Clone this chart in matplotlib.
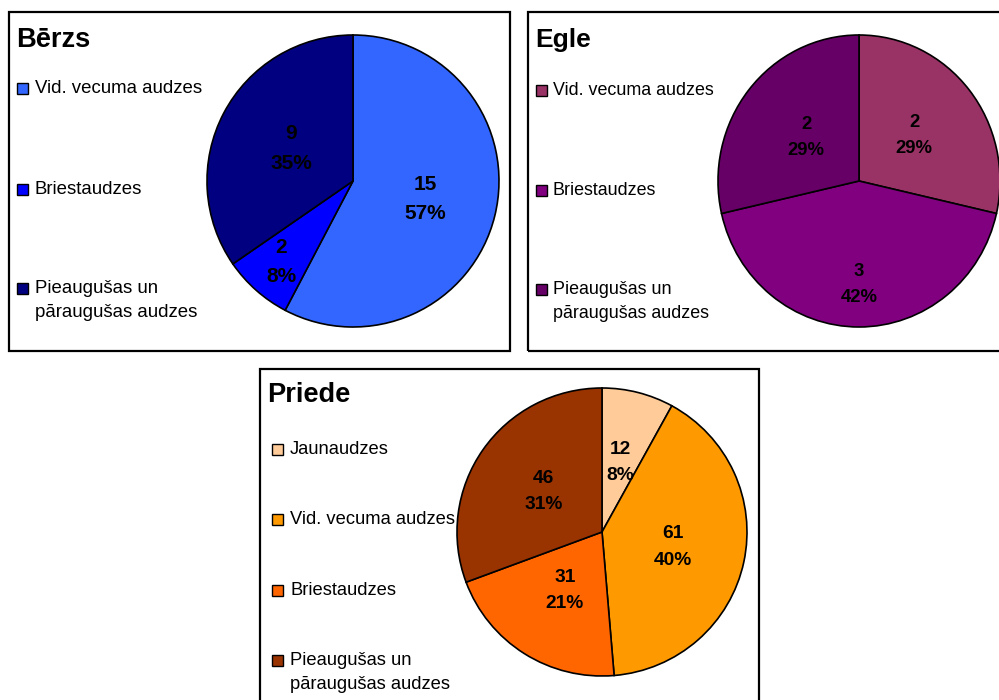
import matplotlib
matplotlib.use("Agg")
import matplotlib.pyplot as plt
from matplotlib.patches import Rectangle
import numpy as np

plt.rcParams['font.family'] = ['Liberation Sans', 'DejaVu Sans']

# ---------------- data ----------------
berzs_categories = ["Vid. vecuma audzes", "Briestaudzes", "Pieaugušas un\npāraugušas audzes"]
berzs_values = [15, 2, 9]
berzs_pcts = ["57%", "8%", "35%"]

egle_categories = ["Vid. vecuma audzes", "Briestaudzes", "Pieaugušas un\npāraugušas audzes"]
egle_values = [2, 3, 2]
egle_pcts = ["29%", "42%", "29%"]

priede_categories = ["Jaunaudzes", "Vid. vecuma audzes", "Briestaudzes", "Pieaugušas un\npāraugušas audzes"]
priede_values = [12, 61, 31, 46]
priede_pcts = ["8%", "40%", "21%", "31%"]

berzs_colors = ["#3366FF", "#0000FF", "#000080"]
egle_colors = ["#993366", "#800080", "#660066"]
priede_colors = ["#FFCC99", "#FF9900", "#FF6600", "#993300"]

W, H = 999, 700
fig = plt.figure(figsize=(W / 100, H / 100), dpi=100)
fig.patch.set_facecolor("white")


def fx(x):
    return x / W


def fy(y):
    return 1 - y / H


def panel(box, title, title_xy, center, rx, ry, categories, values, pcts, colors,
          label_r, leg_sq_x, leg_tx, leg_baselines, title_fs, leg_fs, lab_fs):
    x0, y0, x1, y1 = box
    fig.patches.append(Rectangle((fx(x0), fy(y1)), (x1 - x0) / W, (y1 - y0) / H,
                                 transform=fig.transFigure, fill=False,
                                 edgecolor="black", linewidth=1.6, zorder=0))
    fig.text(fx(title_xy[0]), fy(title_xy[1]), title, fontsize=title_fs,
             fontweight="bold", ha="left", va="baseline")
    cx, cy = center
    ax = fig.add_axes([fx(cx - rx), fy(cy + ry), 2 * rx / W, 2 * ry / H])
    wedges, _ = ax.pie(values, colors=colors, startangle=90, counterclock=False,
                       wedgeprops=dict(edgecolor="black", linewidth=1.2))
    ax.set_aspect("auto")
    ax.set_xlim(-1, 1)
    ax.set_ylim(-1, 1)
    ax.axis("off")
    for w, v, p, r in zip(wedges, values, pcts, label_r):
        w.set_clip_on(False)
        th = np.deg2rad((w.theta1 + w.theta2) / 2)
        ax.text(r * np.cos(th), r * np.sin(th), f"{v}\n{p}", ha="center",
                va="center", fontsize=lab_fs, fontweight="bold", linespacing=1.7)
    # legend
    for cat, col, bl in zip(categories, colors, leg_baselines):
        fig.patches.append(Rectangle((fx(leg_sq_x), fy(bl + 1)), 11 / W, 11 / H,
                                     transform=fig.transFigure, facecolor=col,
                                     edgecolor="black", linewidth=1.0))
        for i, line in enumerate(cat.split("\n")):
            fig.text(fx(leg_tx), fy(bl + i * 24), line, fontsize=leg_fs,
                     ha="left", va="baseline")


panel((9, 12, 510, 351), "Bērzs", (16, 47), (353, 181), 146, 146,
      berzs_categories, berzs_values, berzs_pcts, berzs_colors,
      [0.51, 0.74, 0.48], 17, 35, [93, 194, 293], 19.6, 13.4, 15)

panel((528, 12, 1010, 351), "Egle", (535, 47), (859, 181), 141, 146,
      egle_categories, egle_values, egle_pcts, egle_colors,
      [0.5, 0.71, 0.48], 536, 553, [95, 195, 294], 19, 12.9, 13.3)

panel((260, 369, 759, 710), "Priede", (267, 402), (602, 532), 145, 144,
      priede_categories, priede_values, priede_pcts, priede_colors,
      [0.5, 0.5, 0.48, 0.49], 272, 290, [454, 524, 595, 665], 19.6, 13.2, 13.8)

fig.savefig("out.png", dpi=100)
